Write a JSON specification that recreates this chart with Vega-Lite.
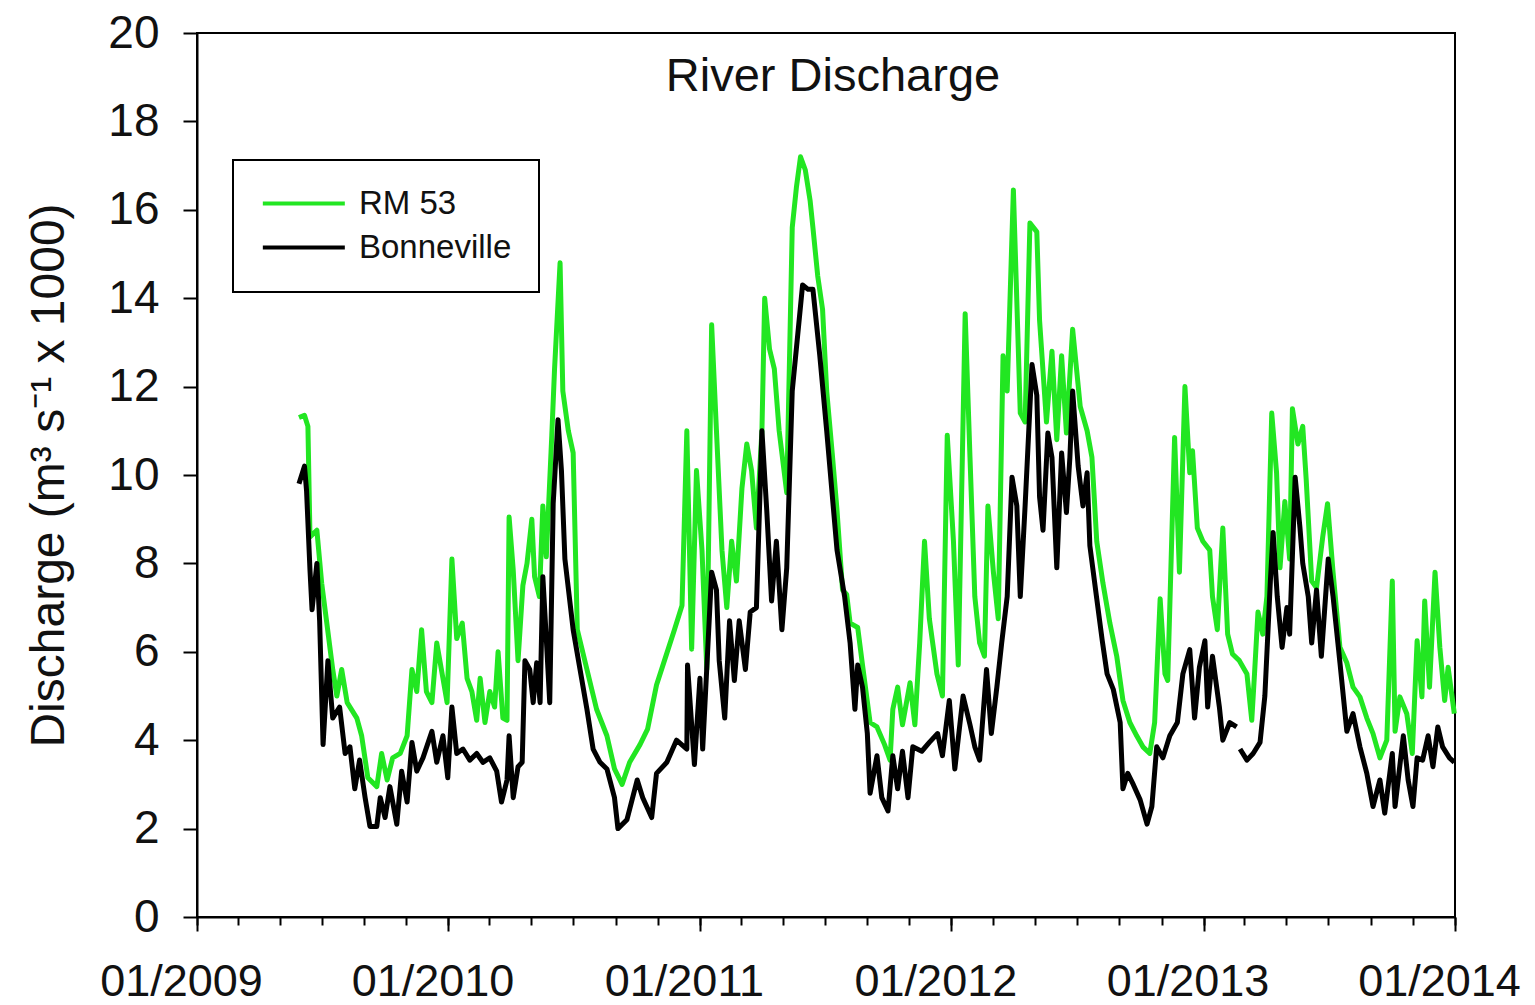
{
  "$schema": "https://vega.github.io/schema/vega-lite/v6.json",
  "width": 1258,
  "height": 884,
  "autosize": {"type": "none"},
  "padding": {"left": 197, "top": 33, "right": 80, "bottom": 88},
  "background": "white",
  "title": {
    "text": "River Discharge",
    "font": "Liberation Sans",
    "fontSize": 47,
    "fontWeight": "normal",
    "color": "#111111",
    "anchor": "middle",
    "baseline": "alphabetic",
    "offset": -60,
    "dy": 68,
    "dx": 7
  },
  "config": {
    "font": "Liberation Sans",
    "view": {"stroke": "black", "strokeWidth": 2},
    "axis": {
      "domainColor": "black",
      "domainWidth": 2,
      "tickColor": "black",
      "tickWidth": 2,
      "labelColor": "#111111",
      "titleColor": "#111111",
      "grid": false
    },
    "legend": {
      "orient": "none",
      "legendX": 36,
      "legendY": 127,
      "strokeColor": "black",
      "padding": 27,
      "symbolType": "M-1,0H5",
      "symbolSize": 747,
      "symbolStrokeWidth": 4,
      "labelFontSize": 33,
      "labelColor": "#111111",
      "labelOffset": 66,
      "rowPadding": 10,
      "title": null
    }
  },
  "data": {
    "values": [
      {"date": "2009-05-29", "site": "RM 53", "q": 11.3},
      {"date": "2009-06-06", "site": "RM 53", "q": 11.35},
      {"date": "2009-06-11", "site": "RM 53", "q": 11.1},
      {"date": "2009-06-14", "site": "RM 53", "q": 8.6},
      {"date": "2009-06-24", "site": "RM 53", "q": 8.75},
      {"date": "2009-07-01", "site": "RM 53", "q": 7.55},
      {"date": "2009-07-08", "site": "RM 53", "q": 6.7},
      {"date": "2009-07-17", "site": "RM 53", "q": 5.6},
      {"date": "2009-07-23", "site": "RM 53", "q": 5.0},
      {"date": "2009-07-30", "site": "RM 53", "q": 5.6},
      {"date": "2009-08-07", "site": "RM 53", "q": 4.85},
      {"date": "2009-08-21", "site": "RM 53", "q": 4.5},
      {"date": "2009-08-28", "site": "RM 53", "q": 4.1},
      {"date": "2009-09-06", "site": "RM 53", "q": 3.15},
      {"date": "2009-09-19", "site": "RM 53", "q": 2.95},
      {"date": "2009-09-26", "site": "RM 53", "q": 3.7},
      {"date": "2009-10-04", "site": "RM 53", "q": 3.1},
      {"date": "2009-10-12", "site": "RM 53", "q": 3.6},
      {"date": "2009-10-23", "site": "RM 53", "q": 3.7},
      {"date": "2009-11-02", "site": "RM 53", "q": 4.1},
      {"date": "2009-11-09", "site": "RM 53", "q": 5.6},
      {"date": "2009-11-16", "site": "RM 53", "q": 5.1},
      {"date": "2009-11-23", "site": "RM 53", "q": 6.5},
      {"date": "2009-11-30", "site": "RM 53", "q": 5.1},
      {"date": "2009-12-08", "site": "RM 53", "q": 4.85},
      {"date": "2009-12-15", "site": "RM 53", "q": 6.2},
      {"date": "2009-12-24", "site": "RM 53", "q": 5.4},
      {"date": "2009-12-30", "site": "RM 53", "q": 4.85},
      {"date": "2010-01-06", "site": "RM 53", "q": 8.1},
      {"date": "2010-01-13", "site": "RM 53", "q": 6.3},
      {"date": "2010-01-21", "site": "RM 53", "q": 6.65},
      {"date": "2010-01-28", "site": "RM 53", "q": 5.4},
      {"date": "2010-02-04", "site": "RM 53", "q": 5.1},
      {"date": "2010-02-11", "site": "RM 53", "q": 4.45},
      {"date": "2010-02-16", "site": "RM 53", "q": 5.4},
      {"date": "2010-02-23", "site": "RM 53", "q": 4.4},
      {"date": "2010-03-02", "site": "RM 53", "q": 5.1},
      {"date": "2010-03-09", "site": "RM 53", "q": 4.75},
      {"date": "2010-03-14", "site": "RM 53", "q": 6.0},
      {"date": "2010-03-21", "site": "RM 53", "q": 4.5},
      {"date": "2010-03-27", "site": "RM 53", "q": 4.45},
      {"date": "2010-03-30", "site": "RM 53", "q": 9.05},
      {"date": "2010-04-05", "site": "RM 53", "q": 7.85},
      {"date": "2010-04-12", "site": "RM 53", "q": 5.8},
      {"date": "2010-04-19", "site": "RM 53", "q": 7.5},
      {"date": "2010-04-25", "site": "RM 53", "q": 8.0},
      {"date": "2010-05-02", "site": "RM 53", "q": 9.0},
      {"date": "2010-05-06", "site": "RM 53", "q": 7.7},
      {"date": "2010-05-13", "site": "RM 53", "q": 7.25},
      {"date": "2010-05-18", "site": "RM 53", "q": 9.3},
      {"date": "2010-05-23", "site": "RM 53", "q": 8.15},
      {"date": "2010-05-31", "site": "RM 53", "q": 10.9},
      {"date": "2010-06-04", "site": "RM 53", "q": 12.4},
      {"date": "2010-06-12", "site": "RM 53", "q": 14.8},
      {"date": "2010-06-16", "site": "RM 53", "q": 11.9},
      {"date": "2010-06-24", "site": "RM 53", "q": 11.0},
      {"date": "2010-07-01", "site": "RM 53", "q": 10.5},
      {"date": "2010-07-07", "site": "RM 53", "q": 6.5},
      {"date": "2010-07-21", "site": "RM 53", "q": 5.6},
      {"date": "2010-08-04", "site": "RM 53", "q": 4.7},
      {"date": "2010-08-19", "site": "RM 53", "q": 4.1},
      {"date": "2010-08-30", "site": "RM 53", "q": 3.35},
      {"date": "2010-09-10", "site": "RM 53", "q": 3.0},
      {"date": "2010-09-21", "site": "RM 53", "q": 3.5},
      {"date": "2010-10-06", "site": "RM 53", "q": 3.9},
      {"date": "2010-10-17", "site": "RM 53", "q": 4.25},
      {"date": "2010-10-30", "site": "RM 53", "q": 5.25},
      {"date": "2010-11-14", "site": "RM 53", "q": 5.97},
      {"date": "2010-11-25", "site": "RM 53", "q": 6.5},
      {"date": "2010-12-06", "site": "RM 53", "q": 7.05},
      {"date": "2010-12-13", "site": "RM 53", "q": 11.0},
      {"date": "2010-12-20", "site": "RM 53", "q": 6.06},
      {"date": "2010-12-27", "site": "RM 53", "q": 10.1},
      {"date": "2011-01-04", "site": "RM 53", "q": 8.3},
      {"date": "2011-01-11", "site": "RM 53", "q": 5.6},
      {"date": "2011-01-18", "site": "RM 53", "q": 13.4},
      {"date": "2011-01-25", "site": "RM 53", "q": 11.0},
      {"date": "2011-02-02", "site": "RM 53", "q": 8.3},
      {"date": "2011-02-09", "site": "RM 53", "q": 7.0},
      {"date": "2011-02-16", "site": "RM 53", "q": 8.5},
      {"date": "2011-02-23", "site": "RM 53", "q": 7.6},
      {"date": "2011-03-03", "site": "RM 53", "q": 9.7},
      {"date": "2011-03-10", "site": "RM 53", "q": 10.7},
      {"date": "2011-03-17", "site": "RM 53", "q": 10.1},
      {"date": "2011-03-24", "site": "RM 53", "q": 8.8},
      {"date": "2011-04-01", "site": "RM 53", "q": 11.0},
      {"date": "2011-04-05", "site": "RM 53", "q": 14.0},
      {"date": "2011-04-12", "site": "RM 53", "q": 12.85},
      {"date": "2011-04-19", "site": "RM 53", "q": 12.4},
      {"date": "2011-04-26", "site": "RM 53", "q": 11.0},
      {"date": "2011-05-07", "site": "RM 53", "q": 9.6},
      {"date": "2011-05-15", "site": "RM 53", "q": 15.6},
      {"date": "2011-05-21", "site": "RM 53", "q": 16.5},
      {"date": "2011-05-27", "site": "RM 53", "q": 17.2},
      {"date": "2011-06-03", "site": "RM 53", "q": 16.9},
      {"date": "2011-06-10", "site": "RM 53", "q": 16.2},
      {"date": "2011-06-14", "site": "RM 53", "q": 15.6},
      {"date": "2011-06-21", "site": "RM 53", "q": 14.5},
      {"date": "2011-06-28", "site": "RM 53", "q": 13.75},
      {"date": "2011-07-04", "site": "RM 53", "q": 11.9},
      {"date": "2011-07-12", "site": "RM 53", "q": 10.5},
      {"date": "2011-07-19", "site": "RM 53", "q": 9.2},
      {"date": "2011-07-27", "site": "RM 53", "q": 7.4},
      {"date": "2011-08-02", "site": "RM 53", "q": 7.3},
      {"date": "2011-08-07", "site": "RM 53", "q": 6.65},
      {"date": "2011-08-18", "site": "RM 53", "q": 6.55},
      {"date": "2011-08-25", "site": "RM 53", "q": 5.7},
      {"date": "2011-09-05", "site": "RM 53", "q": 4.4},
      {"date": "2011-09-15", "site": "RM 53", "q": 4.3},
      {"date": "2011-09-26", "site": "RM 53", "q": 3.9},
      {"date": "2011-10-04", "site": "RM 53", "q": 3.55},
      {"date": "2011-10-08", "site": "RM 53", "q": 4.7},
      {"date": "2011-10-15", "site": "RM 53", "q": 5.2},
      {"date": "2011-10-22", "site": "RM 53", "q": 4.35},
      {"date": "2011-11-02", "site": "RM 53", "q": 5.3},
      {"date": "2011-11-09", "site": "RM 53", "q": 4.35},
      {"date": "2011-11-16", "site": "RM 53", "q": 6.2},
      {"date": "2011-11-23", "site": "RM 53", "q": 8.5},
      {"date": "2011-11-30", "site": "RM 53", "q": 6.75},
      {"date": "2011-12-11", "site": "RM 53", "q": 5.5},
      {"date": "2011-12-19", "site": "RM 53", "q": 5.0},
      {"date": "2011-12-26", "site": "RM 53", "q": 10.9},
      {"date": "2012-01-04", "site": "RM 53", "q": 8.5},
      {"date": "2012-01-11", "site": "RM 53", "q": 5.7},
      {"date": "2012-01-21", "site": "RM 53", "q": 13.65},
      {"date": "2012-01-28", "site": "RM 53", "q": 10.4},
      {"date": "2012-02-04", "site": "RM 53", "q": 7.25},
      {"date": "2012-02-11", "site": "RM 53", "q": 6.2},
      {"date": "2012-02-18", "site": "RM 53", "q": 5.9},
      {"date": "2012-02-23", "site": "RM 53", "q": 9.3},
      {"date": "2012-03-02", "site": "RM 53", "q": 7.8},
      {"date": "2012-03-09", "site": "RM 53", "q": 6.75},
      {"date": "2012-03-16", "site": "RM 53", "q": 12.7},
      {"date": "2012-03-22", "site": "RM 53", "q": 11.9},
      {"date": "2012-03-31", "site": "RM 53", "q": 16.45},
      {"date": "2012-04-10", "site": "RM 53", "q": 11.4},
      {"date": "2012-04-17", "site": "RM 53", "q": 11.2},
      {"date": "2012-04-24", "site": "RM 53", "q": 15.7},
      {"date": "2012-05-04", "site": "RM 53", "q": 15.5},
      {"date": "2012-05-08", "site": "RM 53", "q": 13.5},
      {"date": "2012-05-18", "site": "RM 53", "q": 11.2},
      {"date": "2012-05-26", "site": "RM 53", "q": 12.8},
      {"date": "2012-06-02", "site": "RM 53", "q": 10.8},
      {"date": "2012-06-09", "site": "RM 53", "q": 12.7},
      {"date": "2012-06-16", "site": "RM 53", "q": 10.95},
      {"date": "2012-06-25", "site": "RM 53", "q": 13.3},
      {"date": "2012-07-06", "site": "RM 53", "q": 11.55},
      {"date": "2012-07-16", "site": "RM 53", "q": 11.0},
      {"date": "2012-07-23", "site": "RM 53", "q": 10.4},
      {"date": "2012-07-30", "site": "RM 53", "q": 8.5},
      {"date": "2012-08-08", "site": "RM 53", "q": 7.55},
      {"date": "2012-08-18", "site": "RM 53", "q": 6.65},
      {"date": "2012-08-28", "site": "RM 53", "q": 5.9},
      {"date": "2012-09-06", "site": "RM 53", "q": 4.9},
      {"date": "2012-09-16", "site": "RM 53", "q": 4.4},
      {"date": "2012-09-26", "site": "RM 53", "q": 4.1},
      {"date": "2012-10-05", "site": "RM 53", "q": 3.85},
      {"date": "2012-10-15", "site": "RM 53", "q": 3.7},
      {"date": "2012-10-22", "site": "RM 53", "q": 4.4},
      {"date": "2012-10-30", "site": "RM 53", "q": 7.2},
      {"date": "2012-11-06", "site": "RM 53", "q": 5.5},
      {"date": "2012-11-10", "site": "RM 53", "q": 5.35},
      {"date": "2012-11-20", "site": "RM 53", "q": 10.85},
      {"date": "2012-11-27", "site": "RM 53", "q": 7.8},
      {"date": "2012-12-05", "site": "RM 53", "q": 12.0},
      {"date": "2012-12-12", "site": "RM 53", "q": 10.05},
      {"date": "2012-12-16", "site": "RM 53", "q": 10.55},
      {"date": "2012-12-23", "site": "RM 53", "q": 8.8},
      {"date": "2012-12-31", "site": "RM 53", "q": 8.5},
      {"date": "2013-01-10", "site": "RM 53", "q": 8.3},
      {"date": "2013-01-14", "site": "RM 53", "q": 7.25},
      {"date": "2013-01-21", "site": "RM 53", "q": 6.5},
      {"date": "2013-01-29", "site": "RM 53", "q": 8.8},
      {"date": "2013-02-05", "site": "RM 53", "q": 6.4},
      {"date": "2013-02-12", "site": "RM 53", "q": 5.95},
      {"date": "2013-02-22", "site": "RM 53", "q": 5.8},
      {"date": "2013-03-05", "site": "RM 53", "q": 5.5},
      {"date": "2013-03-12", "site": "RM 53", "q": 4.45},
      {"date": "2013-03-16", "site": "RM 53", "q": 5.5},
      {"date": "2013-03-21", "site": "RM 53", "q": 6.9},
      {"date": "2013-03-28", "site": "RM 53", "q": 6.4},
      {"date": "2013-04-03", "site": "RM 53", "q": 7.25},
      {"date": "2013-04-10", "site": "RM 53", "q": 11.4},
      {"date": "2013-04-17", "site": "RM 53", "q": 10.05},
      {"date": "2013-04-22", "site": "RM 53", "q": 7.9},
      {"date": "2013-04-29", "site": "RM 53", "q": 9.4},
      {"date": "2013-05-06", "site": "RM 53", "q": 8.1},
      {"date": "2013-05-10", "site": "RM 53", "q": 11.5},
      {"date": "2013-05-18", "site": "RM 53", "q": 10.7},
      {"date": "2013-05-25", "site": "RM 53", "q": 11.1},
      {"date": "2013-05-30", "site": "RM 53", "q": 9.9},
      {"date": "2013-06-07", "site": "RM 53", "q": 7.6},
      {"date": "2013-06-14", "site": "RM 53", "q": 7.45},
      {"date": "2013-06-23", "site": "RM 53", "q": 8.6},
      {"date": "2013-06-30", "site": "RM 53", "q": 9.35},
      {"date": "2013-07-08", "site": "RM 53", "q": 7.8},
      {"date": "2013-07-18", "site": "RM 53", "q": 6.1},
      {"date": "2013-07-28", "site": "RM 53", "q": 5.75},
      {"date": "2013-08-06", "site": "RM 53", "q": 5.2},
      {"date": "2013-08-16", "site": "RM 53", "q": 4.98},
      {"date": "2013-08-26", "site": "RM 53", "q": 4.5},
      {"date": "2013-09-04", "site": "RM 53", "q": 4.15},
      {"date": "2013-09-14", "site": "RM 53", "q": 3.6},
      {"date": "2013-09-24", "site": "RM 53", "q": 4.0},
      {"date": "2013-10-02", "site": "RM 53", "q": 7.6},
      {"date": "2013-10-06", "site": "RM 53", "q": 4.2},
      {"date": "2013-10-13", "site": "RM 53", "q": 4.98},
      {"date": "2013-10-23", "site": "RM 53", "q": 4.6},
      {"date": "2013-10-31", "site": "RM 53", "q": 3.7},
      {"date": "2013-11-07", "site": "RM 53", "q": 6.25},
      {"date": "2013-11-14", "site": "RM 53", "q": 4.98},
      {"date": "2013-11-18", "site": "RM 53", "q": 7.15},
      {"date": "2013-11-25", "site": "RM 53", "q": 5.2},
      {"date": "2013-12-03", "site": "RM 53", "q": 7.8},
      {"date": "2013-12-10", "site": "RM 53", "q": 6.1},
      {"date": "2013-12-17", "site": "RM 53", "q": 4.9},
      {"date": "2013-12-22", "site": "RM 53", "q": 5.65},
      {"date": "2013-12-31", "site": "RM 53", "q": 4.6},

      {"date": "2009-05-29", "site": "Bonneville", "q": 9.8},
      {"date": "2009-06-06", "site": "Bonneville", "q": 10.2},
      {"date": "2009-06-09", "site": "Bonneville", "q": 9.65},
      {"date": "2009-06-14", "site": "Bonneville", "q": 7.85},
      {"date": "2009-06-17", "site": "Bonneville", "q": 6.95},
      {"date": "2009-06-24", "site": "Bonneville", "q": 8.0},
      {"date": "2009-06-28", "site": "Bonneville", "q": 6.7},
      {"date": "2009-07-03", "site": "Bonneville", "q": 3.9},
      {"date": "2009-07-10", "site": "Bonneville", "q": 5.8},
      {"date": "2009-07-17", "site": "Bonneville", "q": 4.5},
      {"date": "2009-07-27", "site": "Bonneville", "q": 4.75},
      {"date": "2009-08-04", "site": "Bonneville", "q": 3.7},
      {"date": "2009-08-11", "site": "Bonneville", "q": 3.85},
      {"date": "2009-08-18", "site": "Bonneville", "q": 2.9},
      {"date": "2009-08-25", "site": "Bonneville", "q": 3.55},
      {"date": "2009-09-02", "site": "Bonneville", "q": 2.7},
      {"date": "2009-09-09", "site": "Bonneville", "q": 2.05},
      {"date": "2009-09-19", "site": "Bonneville", "q": 2.05},
      {"date": "2009-09-24", "site": "Bonneville", "q": 2.7},
      {"date": "2009-10-01", "site": "Bonneville", "q": 2.25},
      {"date": "2009-10-08", "site": "Bonneville", "q": 2.95},
      {"date": "2009-10-18", "site": "Bonneville", "q": 2.1},
      {"date": "2009-10-25", "site": "Bonneville", "q": 3.3},
      {"date": "2009-11-02", "site": "Bonneville", "q": 2.6},
      {"date": "2009-11-09", "site": "Bonneville", "q": 3.95},
      {"date": "2009-11-16", "site": "Bonneville", "q": 3.3},
      {"date": "2009-11-25", "site": "Bonneville", "q": 3.6},
      {"date": "2009-12-08", "site": "Bonneville", "q": 4.2},
      {"date": "2009-12-15", "site": "Bonneville", "q": 3.5},
      {"date": "2009-12-24", "site": "Bonneville", "q": 4.1},
      {"date": "2009-12-31", "site": "Bonneville", "q": 3.15},
      {"date": "2010-01-06", "site": "Bonneville", "q": 4.75},
      {"date": "2010-01-13", "site": "Bonneville", "q": 3.7},
      {"date": "2010-01-22", "site": "Bonneville", "q": 3.8},
      {"date": "2010-02-01", "site": "Bonneville", "q": 3.55},
      {"date": "2010-02-11", "site": "Bonneville", "q": 3.7},
      {"date": "2010-02-20", "site": "Bonneville", "q": 3.5},
      {"date": "2010-03-02", "site": "Bonneville", "q": 3.6},
      {"date": "2010-03-12", "site": "Bonneville", "q": 3.3},
      {"date": "2010-03-19", "site": "Bonneville", "q": 2.6},
      {"date": "2010-03-27", "site": "Bonneville", "q": 3.1},
      {"date": "2010-03-30", "site": "Bonneville", "q": 4.1},
      {"date": "2010-04-05", "site": "Bonneville", "q": 2.7},
      {"date": "2010-04-12", "site": "Bonneville", "q": 3.4},
      {"date": "2010-04-18", "site": "Bonneville", "q": 3.5},
      {"date": "2010-04-22", "site": "Bonneville", "q": 5.8},
      {"date": "2010-04-29", "site": "Bonneville", "q": 5.6},
      {"date": "2010-05-04", "site": "Bonneville", "q": 4.85},
      {"date": "2010-05-09", "site": "Bonneville", "q": 5.75},
      {"date": "2010-05-14", "site": "Bonneville", "q": 4.85},
      {"date": "2010-05-18", "site": "Bonneville", "q": 7.7},
      {"date": "2010-05-23", "site": "Bonneville", "q": 6.3},
      {"date": "2010-05-28", "site": "Bonneville", "q": 4.85},
      {"date": "2010-06-02", "site": "Bonneville", "q": 9.35},
      {"date": "2010-06-09", "site": "Bonneville", "q": 11.25},
      {"date": "2010-06-14", "site": "Bonneville", "q": 10.1},
      {"date": "2010-06-19", "site": "Bonneville", "q": 8.1},
      {"date": "2010-07-01", "site": "Bonneville", "q": 6.5},
      {"date": "2010-07-11", "site": "Bonneville", "q": 5.6},
      {"date": "2010-07-21", "site": "Bonneville", "q": 4.7},
      {"date": "2010-07-30", "site": "Bonneville", "q": 3.8},
      {"date": "2010-08-09", "site": "Bonneville", "q": 3.5},
      {"date": "2010-08-19", "site": "Bonneville", "q": 3.35},
      {"date": "2010-08-30", "site": "Bonneville", "q": 2.7},
      {"date": "2010-09-04", "site": "Bonneville", "q": 2.0},
      {"date": "2010-09-17", "site": "Bonneville", "q": 2.2},
      {"date": "2010-10-02", "site": "Bonneville", "q": 3.1},
      {"date": "2010-10-10", "site": "Bonneville", "q": 2.7},
      {"date": "2010-10-23", "site": "Bonneville", "q": 2.25},
      {"date": "2010-10-30", "site": "Bonneville", "q": 3.25},
      {"date": "2010-11-14", "site": "Bonneville", "q": 3.5},
      {"date": "2010-11-28", "site": "Bonneville", "q": 4.0},
      {"date": "2010-12-13", "site": "Bonneville", "q": 3.8},
      {"date": "2010-12-14", "site": "Bonneville", "q": 5.7},
      {"date": "2010-12-24", "site": "Bonneville", "q": 3.45},
      {"date": "2011-01-01", "site": "Bonneville", "q": 5.4},
      {"date": "2011-01-05", "site": "Bonneville", "q": 3.8},
      {"date": "2011-01-18", "site": "Bonneville", "q": 7.8},
      {"date": "2011-01-25", "site": "Bonneville", "q": 7.4},
      {"date": "2011-01-29", "site": "Bonneville", "q": 5.8},
      {"date": "2011-02-06", "site": "Bonneville", "q": 4.5},
      {"date": "2011-02-13", "site": "Bonneville", "q": 6.7},
      {"date": "2011-02-20", "site": "Bonneville", "q": 5.35},
      {"date": "2011-02-27", "site": "Bonneville", "q": 6.7},
      {"date": "2011-03-08", "site": "Bonneville", "q": 5.6},
      {"date": "2011-03-15", "site": "Bonneville", "q": 6.9},
      {"date": "2011-03-24", "site": "Bonneville", "q": 7.0},
      {"date": "2011-04-01", "site": "Bonneville", "q": 11.0},
      {"date": "2011-04-08", "site": "Bonneville", "q": 9.2},
      {"date": "2011-04-15", "site": "Bonneville", "q": 7.15},
      {"date": "2011-04-22", "site": "Bonneville", "q": 8.5},
      {"date": "2011-04-30", "site": "Bonneville", "q": 6.5},
      {"date": "2011-05-07", "site": "Bonneville", "q": 7.9},
      {"date": "2011-05-15", "site": "Bonneville", "q": 11.9},
      {"date": "2011-05-30", "site": "Bonneville", "q": 14.3},
      {"date": "2011-06-07", "site": "Bonneville", "q": 14.2},
      {"date": "2011-06-14", "site": "Bonneville", "q": 14.2},
      {"date": "2011-06-24", "site": "Bonneville", "q": 12.7},
      {"date": "2011-07-04", "site": "Bonneville", "q": 11.0},
      {"date": "2011-07-19", "site": "Bonneville", "q": 8.3},
      {"date": "2011-07-30", "site": "Bonneville", "q": 7.25},
      {"date": "2011-08-07", "site": "Bonneville", "q": 6.2},
      {"date": "2011-08-14", "site": "Bonneville", "q": 4.7},
      {"date": "2011-08-18", "site": "Bonneville", "q": 5.7},
      {"date": "2011-08-25", "site": "Bonneville", "q": 5.2},
      {"date": "2011-09-01", "site": "Bonneville", "q": 4.15},
      {"date": "2011-09-05", "site": "Bonneville", "q": 2.8},
      {"date": "2011-09-15", "site": "Bonneville", "q": 3.65},
      {"date": "2011-09-22", "site": "Bonneville", "q": 2.7},
      {"date": "2011-10-01", "site": "Bonneville", "q": 2.4},
      {"date": "2011-10-08", "site": "Bonneville", "q": 3.65},
      {"date": "2011-10-15", "site": "Bonneville", "q": 2.9},
      {"date": "2011-10-22", "site": "Bonneville", "q": 3.75},
      {"date": "2011-10-30", "site": "Bonneville", "q": 2.7},
      {"date": "2011-11-06", "site": "Bonneville", "q": 3.85},
      {"date": "2011-11-19", "site": "Bonneville", "q": 3.75},
      {"date": "2011-11-30", "site": "Bonneville", "q": 3.95},
      {"date": "2011-12-12", "site": "Bonneville", "q": 4.15},
      {"date": "2011-12-19", "site": "Bonneville", "q": 3.65},
      {"date": "2011-12-29", "site": "Bonneville", "q": 4.9},
      {"date": "2012-01-06", "site": "Bonneville", "q": 3.35},
      {"date": "2012-01-18", "site": "Bonneville", "q": 5.0},
      {"date": "2012-01-28", "site": "Bonneville", "q": 4.35},
      {"date": "2012-02-04", "site": "Bonneville", "q": 3.85},
      {"date": "2012-02-11", "site": "Bonneville", "q": 3.55},
      {"date": "2012-02-21", "site": "Bonneville", "q": 5.6},
      {"date": "2012-02-28", "site": "Bonneville", "q": 4.15},
      {"date": "2012-03-07", "site": "Bonneville", "q": 5.2},
      {"date": "2012-03-14", "site": "Bonneville", "q": 6.2},
      {"date": "2012-03-22", "site": "Bonneville", "q": 7.25},
      {"date": "2012-03-29", "site": "Bonneville", "q": 9.95},
      {"date": "2012-04-05", "site": "Bonneville", "q": 9.3},
      {"date": "2012-04-10", "site": "Bonneville", "q": 7.25},
      {"date": "2012-04-17", "site": "Bonneville", "q": 9.3},
      {"date": "2012-04-27", "site": "Bonneville", "q": 12.5},
      {"date": "2012-05-04", "site": "Bonneville", "q": 11.8},
      {"date": "2012-05-08", "site": "Bonneville", "q": 9.5},
      {"date": "2012-05-13", "site": "Bonneville", "q": 8.75},
      {"date": "2012-05-20", "site": "Bonneville", "q": 10.95},
      {"date": "2012-05-26", "site": "Bonneville", "q": 10.4},
      {"date": "2012-06-02", "site": "Bonneville", "q": 7.9},
      {"date": "2012-06-09", "site": "Bonneville", "q": 10.5},
      {"date": "2012-06-16", "site": "Bonneville", "q": 9.15},
      {"date": "2012-06-21", "site": "Bonneville", "q": 10.4},
      {"date": "2012-06-25", "site": "Bonneville", "q": 11.9},
      {"date": "2012-07-03", "site": "Bonneville", "q": 10.2},
      {"date": "2012-07-10", "site": "Bonneville", "q": 9.3},
      {"date": "2012-07-16", "site": "Bonneville", "q": 10.05},
      {"date": "2012-07-20", "site": "Bonneville", "q": 8.4},
      {"date": "2012-07-30", "site": "Bonneville", "q": 7.2},
      {"date": "2012-08-07", "site": "Bonneville", "q": 6.25},
      {"date": "2012-08-14", "site": "Bonneville", "q": 5.5},
      {"date": "2012-08-23", "site": "Bonneville", "q": 5.15},
      {"date": "2012-09-02", "site": "Bonneville", "q": 4.4},
      {"date": "2012-09-06", "site": "Bonneville", "q": 2.9},
      {"date": "2012-09-13", "site": "Bonneville", "q": 3.25},
      {"date": "2012-09-21", "site": "Bonneville", "q": 3.0},
      {"date": "2012-10-01", "site": "Bonneville", "q": 2.65},
      {"date": "2012-10-11", "site": "Bonneville", "q": 2.1},
      {"date": "2012-10-18", "site": "Bonneville", "q": 2.5},
      {"date": "2012-10-25", "site": "Bonneville", "q": 3.85},
      {"date": "2012-11-03", "site": "Bonneville", "q": 3.6},
      {"date": "2012-11-13", "site": "Bonneville", "q": 4.1},
      {"date": "2012-11-24", "site": "Bonneville", "q": 4.4},
      {"date": "2012-12-02", "site": "Bonneville", "q": 5.5},
      {"date": "2012-12-12", "site": "Bonneville", "q": 6.05},
      {"date": "2012-12-19", "site": "Bonneville", "q": 4.5},
      {"date": "2012-12-26", "site": "Bonneville", "q": 5.65},
      {"date": "2013-01-03", "site": "Bonneville", "q": 6.25},
      {"date": "2013-01-07", "site": "Bonneville", "q": 4.75},
      {"date": "2013-01-14", "site": "Bonneville", "q": 5.9},
      {"date": "2013-01-24", "site": "Bonneville", "q": 4.75},
      {"date": "2013-01-29", "site": "Bonneville", "q": 4.0},
      {"date": "2013-02-08", "site": "Bonneville", "q": 4.4},
      {"date": "2013-02-18", "site": "Bonneville", "q": 4.3},
      {"date": "2013-02-20", "site": "Bonneville", "q": null},
      {"date": "2013-02-23", "site": "Bonneville", "q": 3.8},
      {"date": "2013-03-05", "site": "Bonneville", "q": 3.55},
      {"date": "2013-03-14", "site": "Bonneville", "q": 3.7},
      {"date": "2013-03-24", "site": "Bonneville", "q": 3.95},
      {"date": "2013-03-31", "site": "Bonneville", "q": 5.0},
      {"date": "2013-04-08", "site": "Bonneville", "q": 7.6},
      {"date": "2013-04-12", "site": "Bonneville", "q": 8.7},
      {"date": "2013-04-18", "site": "Bonneville", "q": 7.25},
      {"date": "2013-04-25", "site": "Bonneville", "q": 6.1},
      {"date": "2013-05-02", "site": "Bonneville", "q": 7.0},
      {"date": "2013-05-06", "site": "Bonneville", "q": 6.4},
      {"date": "2013-05-14", "site": "Bonneville", "q": 9.95},
      {"date": "2013-05-21", "site": "Bonneville", "q": 8.8},
      {"date": "2013-05-25", "site": "Bonneville", "q": 8.0},
      {"date": "2013-06-02", "site": "Bonneville", "q": 7.25},
      {"date": "2013-06-07", "site": "Bonneville", "q": 6.2},
      {"date": "2013-06-14", "site": "Bonneville", "q": 7.4},
      {"date": "2013-06-21", "site": "Bonneville", "q": 5.9},
      {"date": "2013-07-01", "site": "Bonneville", "q": 8.1},
      {"date": "2013-07-08", "site": "Bonneville", "q": 7.25},
      {"date": "2013-07-18", "site": "Bonneville", "q": 5.75},
      {"date": "2013-07-28", "site": "Bonneville", "q": 4.2},
      {"date": "2013-08-06", "site": "Bonneville", "q": 4.6},
      {"date": "2013-08-16", "site": "Bonneville", "q": 3.85},
      {"date": "2013-08-26", "site": "Bonneville", "q": 3.25},
      {"date": "2013-09-04", "site": "Bonneville", "q": 2.5},
      {"date": "2013-09-14", "site": "Bonneville", "q": 3.1},
      {"date": "2013-09-21", "site": "Bonneville", "q": 2.35},
      {"date": "2013-10-02", "site": "Bonneville", "q": 3.7},
      {"date": "2013-10-06", "site": "Bonneville", "q": 2.5},
      {"date": "2013-10-18", "site": "Bonneville", "q": 4.1},
      {"date": "2013-10-25", "site": "Bonneville", "q": 3.1},
      {"date": "2013-11-01", "site": "Bonneville", "q": 2.5},
      {"date": "2013-11-07", "site": "Bonneville", "q": 3.6},
      {"date": "2013-11-15", "site": "Bonneville", "q": 3.55},
      {"date": "2013-11-23", "site": "Bonneville", "q": 4.1},
      {"date": "2013-11-30", "site": "Bonneville", "q": 3.4},
      {"date": "2013-12-07", "site": "Bonneville", "q": 4.3},
      {"date": "2013-12-14", "site": "Bonneville", "q": 3.85},
      {"date": "2013-12-24", "site": "Bonneville", "q": 3.6},
      {"date": "2013-12-31", "site": "Bonneville", "q": 3.5}
    ]
  },
  "encoding": {
    "y": {
      "field": "q",
      "type": "quantitative",
      "scale": {"domain": [0, 20], "nice": false, "zero": true},
      "axis": {
        "values": [0, 2, 4, 6, 8, 10, 12, 14, 16, 18, 20],
        "tickSize": 14,
        "labelFontSize": 46,
        "labelPadding": 24,
        "title": "Discharge (m³ s⁻¹ x 1000)",
        "titleFontSize": 48,
        "titleFontWeight": "normal",
        "titlePadding": 34
      }
    },
    "color": {
      "field": "site",
      "type": "nominal",
      "scale": {"domain": ["RM 53", "Bonneville"], "range": ["#22e622", "#000000"]},
      "legend": {
        "encode": {"legend": {"update": {"strokeWidth": {"value": 2}}}}
      }
    }
  },
  "layer": [
    {
      "transform": [{"filter": "datum.site === 'RM 53'"}],
      "mark": {"type": "line", "strokeWidth": 5, "strokeJoin": "round"},
      "encoding": {
        "x": {
          "field": "date",
          "type": "temporal",
          "scale": {"domain": [{"year": 2009, "month": 1, "date": 1}, {"year": 2014, "month": 1, "date": 1}], "nice": false},
          "axis": {
            "orient": "bottom",
            "format": "%m/%Y",
            "tickCount": {"interval": "year", "step": 1},
            "tickSize": 14,
            "labelFontSize": 45,
            "labelPadding": 28,
            "labelOffset": -16,
            "labelFlush": false,
            "labelOverlap": false,
            "labelBound": false,
            "title": null
          }
        }
      }
    },
    {
      "transform": [{"filter": "datum.site === 'Bonneville'"}],
      "mark": {"type": "line", "strokeWidth": 5, "strokeJoin": "round", "invalid": "break-paths-show-domains"},
      "encoding": {
        "x": {
          "field": "date",
          "type": "temporal",
          "axis": {
            "orient": "bottom",
            "tickCount": {"interval": "month", "step": 2},
            "tickSize": 8,
            "labels": false,
            "domain": false,
            "title": null
          }
        }
      }
    }
  ],
  "resolve": {"axis": {"x": "independent"}}
}
